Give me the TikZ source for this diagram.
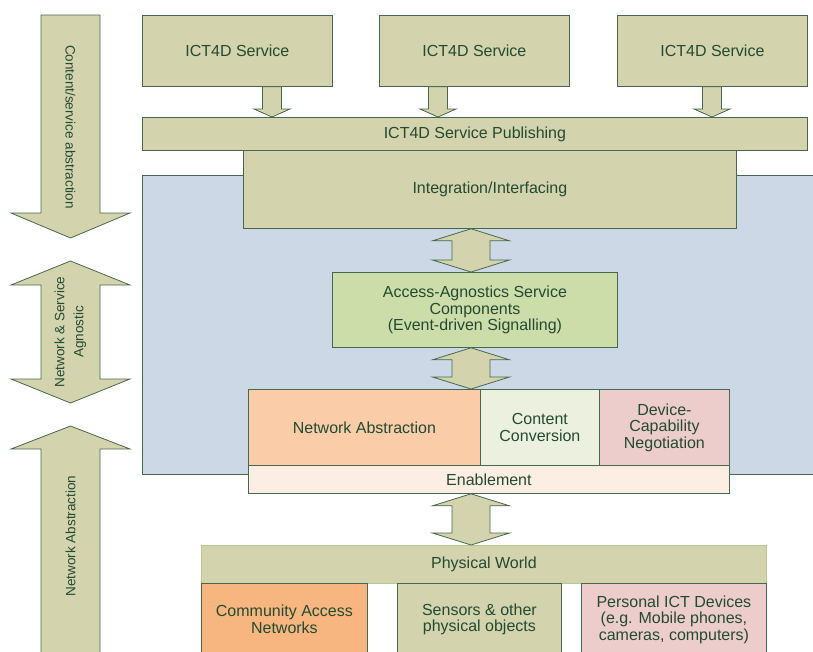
\documentclass[tikz,border=0pt]{standalone}
\usepackage{fontspec}
\setmainfont{Liberation Sans}
\usetikzlibrary{calc}

\definecolor{edgegreen}{RGB}{72,104,78}
\definecolor{txtgreen}{RGB}{36,74,50}
\definecolor{olivefill}{RGB}{211,211,173}
\definecolor{lightedge}{RGB}{178,202,140}
\definecolor{corefill}{RGB}{205,216,230}
\definecolor{accessfill}{RGB}{205,221,170}
\definecolor{netfill}{RGB}{250,204,168}
\definecolor{convfill}{RGB}{236,240,222}
\definecolor{devfill}{RGB}{237,205,204}
\definecolor{enablefill}{RGB}{253,238,227}
\definecolor{commfill}{RGB}{247,182,128}

\tikzset{
	box/.style={draw=edgegreen, line width=0.8pt, text=txtgreen, align=center,
		inner sep=0pt, anchor=north west, font=\fontsize{16}{16.5}\selectfont},
	fatarrow/.style={fill=olivefill, draw=edgegreen, line width=0.8pt},
	sidetext/.style={text=txtgreen, align=center, inner sep=0pt,
		font=\fontsize{13.5}{19}\selectfont}
}

% fat arrow down: x, from node, to node
\newcommand{\fatdown}[3]{%
	\filldraw[fatarrow] let \p1=(#2.south), \p2=(#3.north) in
	(#1pt-9.5pt,\y1) -- (#1pt+9.5pt,\y1) -- (#1pt+9.5pt,\y2+8pt) -- (#1pt+18pt,\y2+8pt)
	-- (#1pt,\y2) -- (#1pt-18pt,\y2+8pt) -- (#1pt-9.5pt,\y2+8pt) -- cycle;}

% fat double arrow: x, upper node, lower node
\newcommand{\fatdouble}[3]{%
	\filldraw[fatarrow] let \p1=(#2.south), \p2=(#3.north) in
	(#1pt,\y1) -- (#1pt+38.5pt,\y1-12pt) -- (#1pt+19pt,\y1-12pt) -- (#1pt+19pt,\y2+12pt)
	-- (#1pt+38.5pt,\y2+12pt) -- (#1pt,\y2) -- (#1pt-38.5pt,\y2+12pt) -- (#1pt-19pt,\y2+12pt)
	-- (#1pt-19pt,\y1-12pt) -- (#1pt-38.5pt,\y1-12pt) -- cycle;}

\begin{document}
\begin{tikzpicture}[x=1pt,y=-1pt]
	\useasboundingbox (0,0) rectangle (813,651);
	
	% Core area
	\filldraw[fill=corefill, draw=edgegreen, line width=0.8pt] (142,175) rectangle (815,474);
	
	% Side arrows
	\filldraw[fatarrow] (41,15) -- (100,15) -- (100,213) -- (130,213) -- (70.5,238)
		-- (11,213) -- (41,213) -- cycle;
	\node[sidetext, rotate=-90] (contabs) at (70.5,127) {Content/service abstraction};
	
	\filldraw[fatarrow] (70.5,261) -- (130,285) -- (100,285) -- (100,379) -- (130,379)
		-- (70.5,403) -- (11,379) -- (41,379) -- (41,285) -- (11,285) -- cycle;
	\node[sidetext, rotate=90] (agnostic) at (70.5,332) {Network \& Service\\Agnostic};
	
	\filldraw[fatarrow] (41,656) -- (41,449) -- (11,449) -- (70.5,426) -- (130,449)
		-- (100,449) -- (100,656) -- cycle;
	\node[sidetext, rotate=90] (netabsside) at (70.5,536) {Network Abstraction};
	
	% Services
	\node[box, fill=olivefill, minimum width=190pt, minimum height=71pt] (svcA) at (142,15) {ICT4D Service};
	\node[box, fill=olivefill, minimum width=190pt, minimum height=71pt] (svcB) at (379,15) {ICT4D Service};
	\node[box, fill=olivefill, minimum width=190pt, minimum height=71pt] (svcC) at (617,15) {ICT4D Service};
	
	% Publishing
	\node[box, fill=olivefill, minimum width=665pt, minimum height=33pt] (pub) at (142,117) {ICT4D Service Publishing};
	\fatdown{272}{svcA}{pub}
	\fatdown{438}{svcB}{pub}
	\fatdown{712}{svcC}{pub}
	
	% Integration
	\node[box, fill=olivefill, minimum width=493pt, minimum height=78pt] (integ) at (243,150)
		{\raisebox{3pt}{Integration/Interfacing}};
	
	% Access-agnostic components
	\node[box, fill=accessfill, minimum width=285pt, minimum height=75pt] (access) at (332,272)
		{Access-Agnostics Service\\Components\\(Event-driven Signalling)};
	\fatdouble{471}{integ}{access}
	
	% Enablement row
	\node[box, fill=netfill, minimum width=232pt, minimum height=76pt] (netabs) at (248,389) {Network Abstraction};
	\node[box, fill=convfill, minimum width=119pt, minimum height=76pt] (conv) at (480,389) {Content\\Conversion};
	\node[box, fill=devfill, minimum width=130pt, minimum height=76pt] (devcap) at (599,389) {Device-\\Capability\\Negotiation};
	\node[box, fill=enablefill, minimum width=481pt, minimum height=28pt] (enable) at (248,465) {Enablement};
	\fatdouble{471}{access}{netabs}
	
	% Physical world
	\node[box, fill=olivefill, draw=lightedge, minimum width=565pt, minimum height=38pt] (phys) at (201,545) {Physical World};
	\fatdouble{471}{enable}{phys}
	\node[box, fill=commfill, minimum width=166pt, minimum height=72pt] (comm) at (201,583) {Community Access\\Networks};
	\node[box, fill=olivefill, minimum width=164pt, minimum height=72pt] (sensors) at (397,583) {Sensors \& other\\physical objects};
	\node[box, fill=devfill, minimum width=185pt, minimum height=72pt] (personal) at (581,583)
		{Personal ICT Devices\\(e.g. Mobile phones,\\cameras, computers)};
\end{tikzpicture}
\end{document}
